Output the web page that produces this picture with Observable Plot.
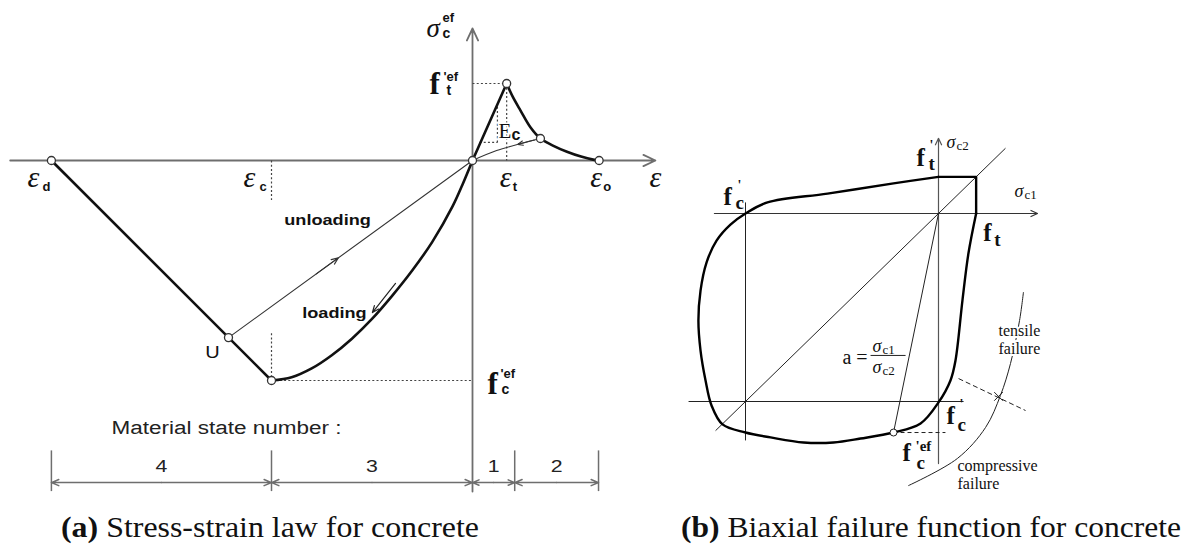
<!DOCTYPE html>
<html>
<head>
<meta charset="utf-8">
<script src="https://cdn.jsdelivr.net/npm/d3@7"></script>
<script src="https://cdn.jsdelivr.net/npm/@observablehq/plot@0.6"></script>
<style>
  body { margin: 0; background: #fff; }
  #fig { position: relative; width: 1194px; height: 546px; overflow: hidden; background: #fff; }
  #panelA { position: absolute; left: 0; top: 0; }
  #panelB { position: absolute; left: 660px; top: 0; }
  .cap { position: absolute; top: 513px; font-family: "Liberation Serif", "Times New Roman", serif;
         font-size: 29px; line-height: 1; color: #111; white-space: nowrap; transform-origin: 0 0; }
</style>
</head>
<body>
<div id="fig">
  <div id="panelA"></div>
  <div id="panelB"></div>
  <div class="cap" id="capA" style="left:61px" data-w="418"><b>(a)</b> Stress-strain law for concrete</div>
  <div class="cap" id="capB" style="left:681px" data-w="500"><b>(b)</b> Biaxial failure function for concrete</div>
</div>
<script>
// ===== (a) Stress-strain law: strain in units of |ε_c|, stress in units of |f'c ef| =====
const epsD = -2.095, epsC = -1, epsT = 0.17, epsO = 0.63;
const fcEf = -1, ftEf = 0.35;

// material state 3: loading in compression up to the peak f'c ef
const compStrain = [0, -0.05, -0.1, -0.2, -0.3, -0.4, -0.5, -0.6, -0.7, -0.8, -0.9, -1];
const compStress = [0, -0.11, -0.21, -0.37, -0.50, -0.615, -0.72, -0.81, -0.885, -0.945, -0.985, -1];
// material state 4: linear crushing branch
const crushStrain = [epsD, epsC];
const crushStress = [0, fcEf];
// material state 1: linear elastic in tension
const tensStrain = [0, epsT];
const tensStress = [0, ftEf];
// material state 2: tension softening
const softStrain = [0.17, 0.2, 0.239, 0.289, 0.338, 0.40, 0.47, 0.54, 0.60, 0.63];
const softStress = [0.35, 0.29, 0.227, 0.15, 0.10, 0.068, 0.04, 0.018, 0.004, 0];
// unloading from the softening branch back to the origin
const tUnloadStrain = [0.338, 0.24, 0.12, 0];
const tUnloadStress = [0.10, 0.077, 0.045, 0];
// unloading from point U on the crushing branch
const uStrain = -1.214, uStress = -0.805;
// material state numbers and their strain limits
const stateBounds = [-2.095, -1, 0, 0.21, 0.627];
const stateNumbers = ["4", "3", "1", "2"];

// ===== (b) Biaxial failure function: σc1 and σc2 in units of |f'c| =====
const fc = -1, ft = 0.195;
// smooth part of the envelope, from f_t round through compression to f't
const envS1 = [ft, 0.155, 0.124, 0.088, 0.062, 0, -0.093, -0.233, -0.404, -0.544, -0.699, -0.870, -1.0,
               -1.119, -1.176, -1.207, -1.233, -1.244, -1.233, -1.202, -1.150, -1.078, -1.0, -0.886, -0.575, -0.233, 0];
const envS2 = [0, -0.213, -0.463, -0.782, -0.888, -1.005, -1.117, -1.165, -1.197, -1.218, -1.218, -1.191, -1.165,
               -1.122, -1.021, -0.888, -0.729, -0.569, -0.41, -0.261, -0.144, -0.059, 0, 0.059, 0.106, 0.160, ft];
// tension-tension corner
const sqS1 = [0, ft, ft];
const sqS2 = [ft, ft, 0];
// state on the envelope for stress ratio a, reached at f'c ef
const aS1 = -0.233, aS2 = -1.165;
// boundary between tensile and compressive failure
const arcS1 = [0.44, 0.42, 0.373, 0.321, 0.244, 0.098, -0.155];
const arcS2 = [-0.42, -0.569, -0.798, -0.968, -1.138, -1.303, -1.447];
const crossS1 = 0.311, crossS2 = -0.973;

// ---------- helpers ----------
const sans = "'Liberation Sans', Arial, sans-serif";
const serif = "'Liberation Serif', 'Times New Roman', serif";
const pts = (xs, ys) => xs.map((x, i) => ({x, y: ys[i]}));
function txt(x, y, text, o = {}) {
  return Plot.text([text], {x: () => x, y: () => y, text: d => d, textAnchor: "start",
    lineAnchor: "bottom", fill: "#111", ...o});
}
const fBold = (size) => ({fontFamily: serif, fontWeight: "bold", fontSize: size});
const sBold = (size) => ({fontFamily: sans, fontWeight: "bold", fontSize: size});
const greek = (size) => ({fontFamily: serif, fontStyle: "italic", fontSize: size});

// ---------- panel (a) ----------
const A = {w: 660, h: 500, ox: 472, oy: 160, kx: 201, ky: 220};
const axA = {epsMin: -2.30, epsMax: 0.91, sigMin: -1.505, sigMax: 0.60};
const dimA = {line: -1.464, tickTop: -1.32, tickBottom: -1.505, num: -1.39};
const grey = "#6e6e6e", dark = "#111";
const dotted = {stroke: "#444", strokeWidth: 1.2, strokeDasharray: "2,2.2"};

const dottedSegs = [
  {x1: 0, y1: ftEf, x2: epsT, y2: ftEf},
  {x1: epsT, y1: ftEf, x2: epsT, y2: 0},
  {x1: epsC, y1: 0, x2: epsC, y2: -0.18},
  {x1: epsC, y1: -0.785, x2: epsC, y2: fcEf},
  {x1: epsC, y1: fcEf, x2: 0, y2: fcEf},
  {x1: 0.035, y1: 0.082, x2: 0.124, y2: 0.082},
  {x1: 0.124, y1: 0.082, x2: 0.124, y2: 0.25}
];

const along = (t) => ({x: uStrain * (1 - t), y: uStress * (1 - t)});
const uArrow = {x1: along(0.36).x, y1: along(0.36).y, x2: along(0.45).x, y2: along(0.45).y};
const tArrow = {
  x1: tUnloadStrain[0] - 0.03, y1: tUnloadStress[0] - 0.007,
  x2: tUnloadStrain[1] - 0.015, y2: tUnloadStress[1] - 0.004
};
const loadArrow = {x1: -0.383, y1: -0.559, x2: -0.498, y2: -0.691};

const dimArrows = [];
stateBounds.slice(0, -1).forEach((b, i) => {
  const e = stateBounds[i + 1], m = (b + e) / 2;
  dimArrows.push({x1: m, x2: b}, {x1: m, x2: e});
});
const stateMid = stateNumbers.map((s, i) => ({s, x: (stateBounds[i] + stateBounds[i + 1]) / 2}));

const points = [
  {x: epsD, y: 0}, {x: uStrain, y: uStress}, {x: epsC, y: fcEf}, {x: 0, y: 0},
  {x: epsT, y: ftEf}, {x: tUnloadStrain[0], y: tUnloadStress[0]}, {x: epsO, y: 0}
];

const plotA = Plot.plot({
  width: A.w, height: A.h, margin: 0,
  x: {domain: [-A.ox / A.kx, (A.w - A.ox) / A.kx], range: [0, A.w], axis: null},
  y: {domain: [(A.oy - A.h) / A.ky, A.oy / A.ky], range: [A.h, 0], axis: null},
  style: {background: "transparent", overflow: "visible"},
  marks: [
    // axes
    Plot.arrow([0], {x1: axA.epsMin, y1: 0, x2: axA.epsMax, y2: 0, stroke: grey, strokeWidth: 1.8, headLength: 11, headAngle: 50}),
    Plot.arrow([0], {x1: 0, y1: axA.sigMin, x2: 0, y2: axA.sigMax, stroke: grey, strokeWidth: 1.8, headLength: 11, headAngle: 50}),
    // construction lines
    Plot.link(dottedSegs, {x1: "x1", y1: "y1", x2: "x2", y2: "y2", ...dotted}),
    // dimension line of the material states
    Plot.ruleX(stateBounds.filter(b => b !== 0), {y1: dimA.tickTop, y2: dimA.tickBottom, stroke: grey, strokeWidth: 1.5}),
    Plot.arrow(dimArrows, {x1: "x1", x2: "x2", y1: dimA.line, y2: dimA.line, stroke: grey, strokeWidth: 1.5, headLength: 8, headAngle: 45}),
    Plot.text(stateMid, {x: "x", y: dimA.num, text: "s", fontFamily: sans, fontSize: 17, fill: "#222"}),
    // unloading paths
    Plot.line(pts([uStrain, 0], [uStress, 0]), {x: "x", y: "y", stroke: "#333", strokeWidth: 1.1}),
    Plot.arrow([uArrow], {x1: "x1", y1: "y1", x2: "x2", y2: "y2", stroke: "#333", strokeWidth: 1.1, headLength: 10, headAngle: 45}),
    Plot.line(pts(tUnloadStrain, tUnloadStress), {x: "x", y: "y", curve: "catmull-rom", stroke: "#333", strokeWidth: 1.1}),
    Plot.arrow([tArrow], {x1: "x1", y1: "y1", x2: "x2", y2: "y2", stroke: "#333", strokeWidth: 1.1, headLength: 9, headAngle: 45}),
    Plot.arrow([loadArrow], {x1: "x1", y1: "y1", x2: "x2", y2: "y2", stroke: "#222", strokeWidth: 1.2, headLength: 9, headAngle: 45}),
    // stress-strain law
    Plot.line(pts(crushStrain, crushStress), {x: "x", y: "y", stroke: dark, strokeWidth: 2.6}),
    Plot.line(pts(compStrain, compStress), {x: "x", y: "y", curve: "catmull-rom", stroke: dark, strokeWidth: 2.6}),
    Plot.line(pts(tensStrain, tensStress), {x: "x", y: "y", stroke: dark, strokeWidth: 2.6}),
    Plot.line(pts(softStrain, softStress), {x: "x", y: "y", curve: "catmull-rom", stroke: dark, strokeWidth: 2.6}),
    Plot.dot(points, {x: "x", y: "y", r: 4, fill: "white", stroke: "#333", strokeWidth: 1.3}),
    // labels
    txt(0, axA.sigMax, "σ", {...greek(27), dx: -46, dy: 8}),
    txt(0, axA.sigMax, "ef", {...sBold(13), dx: -30, dy: -7}),
    txt(0, axA.sigMax, "c", {...sBold(14), dx: -30, dy: 9}),
    txt(0, ftEf, "f", {...fBold(31), dx: -43, dy: 10}),
    txt(0, ftEf, "'ef", {...sBold(13), dx: -29, dy: -3}),
    txt(0, ftEf, "t", {...sBold(14), dx: -26, dy: 11}),
    txt(0, fcEf, "f", {...fBold(31), dx: 15, dy: 13}),
    txt(0, fcEf, "'ef", {...sBold(13), dx: 28, dy: -3}),
    txt(0, fcEf, "c", {...sBold(14), dx: 29, dy: 13}),
    txt(0.124, 0.082, "E", {fontFamily: serif, fontSize: 21, dx: 1, dy: -4, stroke: "white", strokeWidth: 3, paintOrder: "stroke"}),
    txt(0.124, 0.082, "c", {...sBold(16), dx: 14, dy: -2}),
    txt(epsD, 0, "ε", {...greek(30), dx: -24, dy: 26}),
    txt(epsD, 0, "d", {...sBold(13), dx: -9, dy: 30}),
    txt(epsC, 0, "ε", {...greek(30), dx: -28, dy: 26}),
    txt(epsC, 0, "c", {...sBold(13), dx: -12, dy: 30}),
    txt(epsT, 0, "ε", {...greek(30), dx: -7, dy: 26}),
    txt(epsT, 0, "t", {...sBold(13), dx: 6, dy: 30}),
    txt(epsO, 0, "ε", {...greek(30), dx: -9, dy: 26}),
    txt(epsO, 0, "o", {...sBold(13), dx: 4, dy: 30}),
    txt(axA.epsMax, 0, "ε", {...greek(30), dx: -6, dy: 26}),
    txt(uStrain, uStress, "U", {fontFamily: sans, fontSize: 16, textAnchor: "middle", lineAnchor: "middle", dx: -16, dy: 15}),
    txt(-0.721, -0.273, "unloading", {...sBold(14.5), textAnchor: "middle", lineAnchor: "middle"}),
    txt(-0.687, -0.695, "loading", {...sBold(14.5), textAnchor: "middle", lineAnchor: "middle"}),
    txt(-1.224, -1.218, "Material state number :", {fontFamily: sans, fontSize: 18, textAnchor: "middle", lineAnchor: "middle", fill: "#222"})
  ]
});

// the sans-serif wording of the strain diagram is set wide
const wide = new Set(["unloading", "loading", "Material state number :", "U", ...stateNumbers]);
plotA.querySelectorAll("text").forEach(t => {
  if (wide.has(t.textContent)) {
    t.setAttribute("transform", (t.getAttribute("transform") || "") + " scale(1.25,1)");
  }
});
document.getElementById("panelA").appendChild(plotA);

// ---------- panel (b) ----------
const B = {w: 534, h: 500, ox: 278, oy: 213, kx: 193, ky: 188};
const axB = {s1Min: -1.161, s1Max: 0.513, s2Min: -1.33, s2Max: 0.40};
const thin = {stroke: "#222", strokeWidth: 1};
const guides = [
  {x1: -1.295, y1: fc, x2: 0.130, y2: fc},
  {x1: fc, y1: 0.059, x2: fc, y2: -1.207},
  {x1: -1.155, y1: -1.155, x2: 0.347, y2: 0.347},
  {x1: 0, y1: 0, x2: aS1, y2: aS2}
];
const fracAt = {x: -0.352, y: -0.755};

const plotB = Plot.plot({
  width: B.w, height: B.h, margin: 0,
  x: {domain: [-B.ox / B.kx, (B.w - B.ox) / B.kx], range: [0, B.w], axis: null},
  y: {domain: [(B.oy - B.h) / B.ky, B.oy / B.ky], range: [B.h, 0], axis: null},
  style: {background: "transparent", overflow: "visible"},
  marks: [
    Plot.arrow([0], {x1: axB.s1Min, y1: 0, x2: axB.s1Max, y2: 0, stroke: "#333", strokeWidth: 1.2, headLength: 9, headAngle: 50}),
    Plot.arrow([0], {x1: 0, y1: axB.s2Min, x2: 0, y2: axB.s2Max, stroke: "#555", strokeWidth: 1.2, headLength: 9, headAngle: 50}),
    Plot.link(guides, {x1: "x1", y1: "y1", x2: "x2", y2: "y2", ...thin}),
    Plot.link([{x1: aS1, x2: 0.036}], {x1: "x1", x2: "x2", y1: aS2, y2: aS2, stroke: "#222", strokeWidth: 1, strokeDasharray: "4,3"}),
    Plot.line(pts(arcS1, arcS2), {x: "x", y: "y", curve: "catmull-rom", stroke: "#222", strokeWidth: 1}),
    Plot.link([{x1: 0.104, y1: -0.878, x2: 0.451, y2: -1.048}], {x1: "x1", y1: "y1", x2: "x2", y2: "y2", stroke: "#222", strokeWidth: 1, strokeDasharray: "5,3"}),
    Plot.dot([0], {x: () => crossS1, y: () => crossS2, symbol: "times", r: 4, stroke: "#222", strokeWidth: 1}),
    Plot.line(pts(envS1, envS2), {x: "x", y: "y", curve: "catmull-rom", stroke: "#000", strokeWidth: 2.4}),
    Plot.line(pts(sqS1, sqS2), {x: "x", y: "y", stroke: "#000", strokeWidth: 2.4}),
    Plot.dot([0], {x: () => aS1, y: () => aS2, r: 3.5, fill: "white", stroke: "#222", strokeWidth: 1}),
    // axis names
    txt(0, axB.s2Max, "σ", {...greek(18), dx: 8, dy: 10}),
    txt(0, axB.s2Max, "c2", {fontFamily: serif, fontSize: 13, dx: 18, dy: 12}),
    txt(axB.s1Max, 0, "σ", {...greek(18), dx: -23, dy: -17}),
    txt(axB.s1Max, 0, "c1", {fontFamily: serif, fontSize: 13, dx: -13, dy: -15}),
    // strengths
    txt(0, ft, "f", {...fBold(25), dx: -22, dy: -11}),
    txt(0, ft, "'", {...fBold(14), dx: -9, dy: -27}),
    txt(0, ft, "t", {...fBold(19), dx: -10, dy: -7}),
    txt(fc, 0, "f", {...fBold(25), dx: -22, dy: -9}),
    txt(fc, 0, "'", {...fBold(14), dx: -8, dy: -24}),
    txt(fc, 0, "c", {...fBold(19), dx: -10, dy: -5}),
    txt(ft, 0, "f", {...fBold(25), dx: 7, dy: 27}),
    txt(ft, 0, "t", {...fBold(19), dx: 18, dy: 32}),
    txt(0, fc, "f", {...fBold(25), dx: 8, dy: 22}),
    txt(0, fc, "'", {...fBold(14), dx: 21, dy: 7}),
    txt(0, fc, "c", {...fBold(19), dx: 19, dy: 29}),
    txt(0, aS2, "f", {...fBold(25), dx: -36, dy: 28}),
    txt(0, aS2, "'ef", {...fBold(15), dx: -23, dy: 18}),
    txt(0, aS2, "c", {...fBold(19), dx: -22, dy: 36}),
    // stress ratio
    txt(fracAt.x, fracAt.y, "a =", {fontFamily: serif, fontSize: 20, textAnchor: "end", dx: -3, dy: 9}),
    txt(fracAt.x, fracAt.y, "σ", {...greek(18), dx: 2, dy: -3}),
    txt(fracAt.x, fracAt.y, "c1", {fontFamily: serif, fontSize: 13, dx: 12, dy: -1}),
    Plot.link([0], {x1: () => fracAt.x, x2: () => fracAt.x + 35 / B.kx, y1: () => fracAt.y, y2: () => fracAt.y, stroke: "#222", strokeWidth: 1}),
    txt(fracAt.x, fracAt.y, "σ", {...greek(18), dx: 2, dy: 18}),
    txt(fracAt.x, fracAt.y, "c2", {fontFamily: serif, fontSize: 13, dx: 12, dy: 20}),
    // failure modes
    txt(crossS1, crossS2, "tensile", {fontFamily: serif, fontSize: 16, dx: 0, dy: -60, stroke: "white", strokeWidth: 4, paintOrder: "stroke"}),
    txt(crossS1, crossS2, "failure", {fontFamily: serif, fontSize: 16, dx: 0, dy: -42, stroke: "white", strokeWidth: 4, paintOrder: "stroke"}),
    txt(crossS1, crossS2, "compressive", {fontFamily: serif, fontSize: 16, dx: -41, dy: 75}),
    txt(crossS1, crossS2, "failure", {fontFamily: serif, fontSize: 16, dx: -41, dy: 93})
  ]
});
document.getElementById("panelB").appendChild(plotB);

// captions are set to the line length of the figure's caption font
document.querySelectorAll(".cap").forEach(c => {
  const w = c.getBoundingClientRect().width;
  c.style.transform = `scaleX(${(+c.dataset.w / w).toFixed(4)})`;
});
</script>
</body>
</html>
